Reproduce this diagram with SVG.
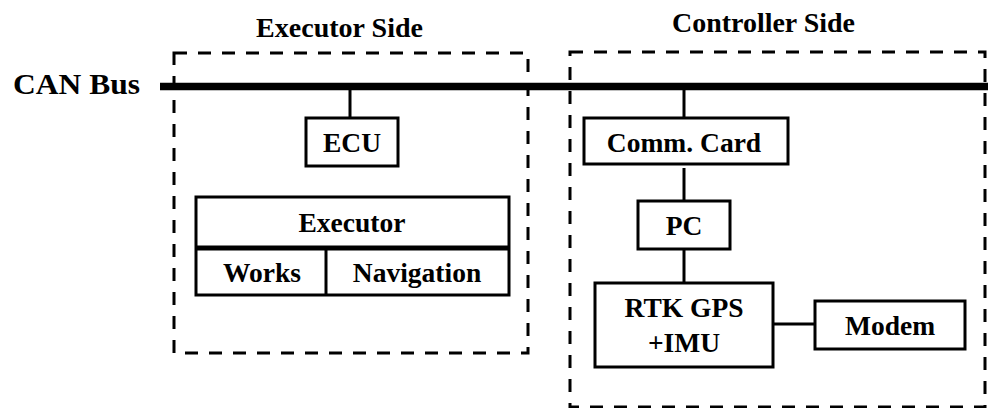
<svg xmlns="http://www.w3.org/2000/svg" width="988" height="408" viewBox="0 0 988 408">
  <style>
    .lbl { font-family: "Liberation Serif", "Times New Roman", serif; font-weight: bold; font-size: 27.5px; fill: #000; text-anchor: middle; }
    .box { fill: #fff; stroke: #000; stroke-width: 3; }
    .zone { fill: none; stroke: #000; stroke-width: 3; stroke-dasharray: 13 11; }
    .wire { stroke: #000; stroke-width: 3; fill: none; }
    .bus { stroke: #000; stroke-width: 7.5; fill: none; }
  </style>
  <rect width="988" height="408" fill="#fff"/>

  <!-- side boundaries -->
  <g id="executor-side">
    <rect class="zone" x="174" y="53" width="354" height="300"/>
    <text class="lbl" x="339.5" y="37" textLength="167" lengthAdjust="spacingAndGlyphs">Executor Side</text>
  </g>
  <g id="controller-side">
    <rect class="zone" x="570" y="52" width="415" height="355"/>
    <text class="lbl" x="763.5" y="32" textLength="183" lengthAdjust="spacingAndGlyphs">Controller Side</text>
  </g>

  <!-- bus and links -->
  <g id="connectors">
    <line class="bus" x1="160" y1="86.5" x2="988" y2="86.5"/>
    <line class="wire" x1="350" y1="87" x2="350" y2="118"/>
    <line class="wire" x1="684" y1="87" x2="684" y2="118"/>
    <line class="wire" x1="684" y1="168" x2="684" y2="201"/>
    <line class="wire" x1="684" y1="249" x2="684" y2="283"/>
    <line class="wire" x1="773" y1="324" x2="815" y2="324"/>
  </g>

  <g id="can-bus-label">
    <text class="lbl" x="13" y="94" style="text-anchor:start; font-size:29px" textLength="127" lengthAdjust="spacingAndGlyphs">CAN Bus</text>
  </g>

  <g id="ecu">
    <rect class="box" x="306" y="118" width="92" height="48"/>
    <text class="lbl" x="352" y="152">ECU</text>
  </g>

  <g id="executor">
    <rect class="box" x="196" y="197" width="313" height="98"/>
    <line x1="196" y1="248" x2="509" y2="248" stroke="#000" stroke-width="5"/>
    <text class="lbl" x="352" y="232">Executor</text>
  </g>
  <g id="works">
    <line class="wire" x1="326" y1="248" x2="326" y2="295"/>
    <text class="lbl" x="262" y="282">Works</text>
  </g>
  <g id="navigation">
    <text class="lbl" x="417" y="282">Navigation</text>
  </g>

  <g id="comm-card">
    <rect class="box" x="584" y="118" width="204" height="46"/>
    <text class="lbl" x="684" y="152">Comm. Card</text>
  </g>

  <g id="pc">
    <rect class="box" x="638" y="201" width="92" height="48"/>
    <text class="lbl" x="684" y="235">PC</text>
  </g>

  <g id="rtk-gps-imu">
    <rect class="box" x="595" y="283" width="178" height="84"/>
    <text class="lbl" x="684" y="317">RTK GPS</text>
    <text class="lbl" x="684" y="352">+IMU</text>
  </g>

  <g id="modem">
    <rect class="box" x="815" y="301" width="150" height="48"/>
    <text class="lbl" x="890" y="335">Modem</text>
  </g>
</svg>
